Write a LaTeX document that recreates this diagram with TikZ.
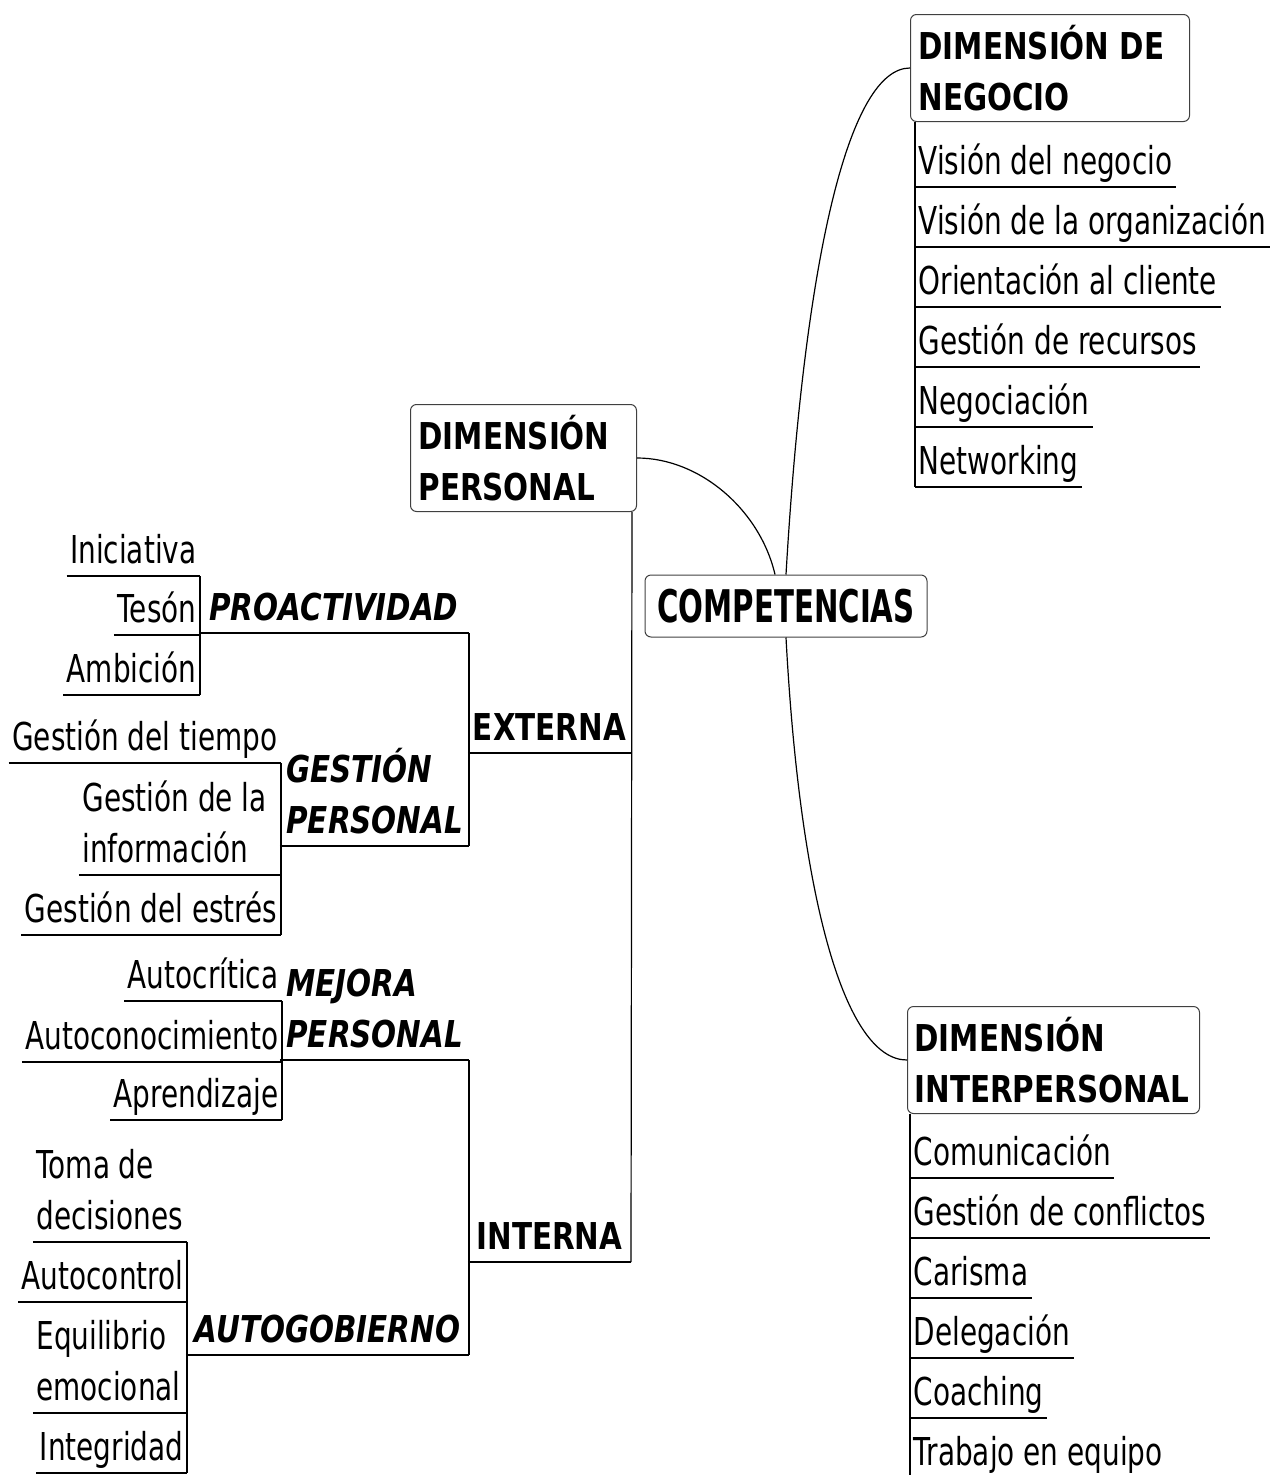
\documentclass[tikz,border=0pt]{standalone}
\usepackage{fontspec}
\newfontfamily\leaffamily{DejaVu Sans}[FakeStretch=0.727]
\newfontfamily\dimfamily{DejaVu Sans}[FakeStretch=0.795]
\newfontfamily\corefamily{DejaVu Sans}[FakeStretch=0.65]
\newcommand\leaffont{\leaffamily\fontsize{38.4}{51}\selectfont}
\newcommand\dimfont{\dimfamily\bfseries\fontsize{37}{51}\selectfont}
\newcommand\groupfont{\dimfamily\bfseries\itshape\fontsize{37}{51}\selectfont}
\newcommand\corefont{\corefamily\bfseries\fontsize{45}{54}\selectfont}
\newcommand\ustrut{\rule[-12pt]{0pt}{12pt}}

\begin{document}
\begin{tikzpicture}[x=1pt, y=-1pt, line width=1.2pt,
  dimbox/.style={draw=black!75, line width=1pt, rounded corners=6pt, font=\dimfont,
    align=flush left, inner xsep=8pt, inner ysep=0pt, minimum height=107pt, anchor=north west},
  leaf/.style={font=\leaffont, inner xsep=3pt, inner ysep=0pt, execute at end node=\ustrut},
  group/.style={font=\groupfont, inner xsep=5pt, inner ysep=0pt, execute at end node=\ustrut,
    anchor=south east},
  side/.style={font=\dimfont, inner xsep=4pt, inner ysep=0pt, execute at end node=\ustrut,
    anchor=south east, minimum width=162pt}]
  \useasboundingbox (0,0) rectangle (1270,1475);

  % Root
  \node[draw=black!75, line width=1pt, rounded corners=6pt, font=\corefont,
    minimum width=282pt, minimum height=62pt] (root) at (786,606) {COMPETENCIAS};

  % Dimensions
  \node[dimbox, text width=263pt] (neg) at (910,14) {DIMENSIÓN DE\\NEGOCIO};
  \node[dimbox, text width=210pt] (pers) at (410,404) {DIMENSIÓN\\PERSONAL};
  \node[dimbox, text width=278pt, inner xsep=7pt] (inter) at (907,1006) {DIMENSIÓN\\INTERPERSONAL};

  \draw (root.north) .. controls (805,250) and (850,68) .. (neg.west);
  \draw ([xshift=-11pt]root.north) .. controls (760,510) and (700,458) .. (pers.east);
  \draw (root.south) .. controls (800,900) and (845,1060) .. (inter.west);

  % Business items
  \foreach \t [count=\i] in {Visión del negocio, Visión de la organización,
      Orientación al cliente, Gestión de recursos, Negociación, Networking}
    \node[leaf, anchor=south west] (neg\i) at (915,127+60*\i) {\t};
  \draw ([xshift=5pt]neg.south west) -- (neg6.south west);

  % Interpersonal items
  \foreach \t [count=\i] in {Comunicación, Gestión de conflictos, Carisma,
      Delegación, Coaching, Trabajo en equipo}
    \node[leaf, anchor=south west] (int\i) at (910,1118+60*\i) {\t};
  \draw ([xshift=3pt]inter.south west) -- (int6.south west);

  % Personal dimension
  \node[side] (ext) at (631,753) {EXTERNA};
  \node[side] (intn) at (631,1262) {INTERNA};
  \draw ([xshift=-5pt]pers.south east) -- (intn.south east);

  \node[group, minimum width=269pt] (proac) at (469,633) {PROACTIVIDAD};
  \node[group, text width=176pt, inner xsep=6pt, align=flush left] (gestp) at (469,846) {GESTIÓN\\PERSONAL};
  \node[group, text width=176pt, inner xsep=6pt, align=flush left] (mejora) at (469,1060) {MEJORA\\PERSONAL};
  \node[group, minimum width=282pt] (autog) at (469,1355) {AUTOGOBIERNO};
  \draw (proac.south east) -- (gestp.south east);
  \draw (mejora.south east) -- (autog.south east);

  \node[leaf, anchor=south east] (ini) at (200,576) {Iniciativa};
  \node[leaf, anchor=south east] (tes) at (200,635) {Tesón};
  \node[leaf, anchor=south east] (amb) at (200,695) {Ambición};
  \draw (ini.south east) -- (amb.south east);

  \node[leaf, anchor=south east] (gtie) at (281,763) {Gestión del tiempo};
  \node[leaf, anchor=south east, text width=195pt, align=flush left] (ginf) at (281,875)
    {Gestión de la\\información};
  \node[leaf, anchor=south east] (gest) at (281,935) {Gestión del estrés};
  \draw (gtie.south east) -- (gest.south east);

  \node[leaf, anchor=south east] (acri) at (282,1001) {Autocrítica};
  \node[leaf, anchor=south east] (acon) at (282,1062) {Autoconocimiento};
  \node[leaf, anchor=south east] (apre) at (282,1120) {Aprendizaje};
  \draw (acri.south east) -- (apre.south east);

  \node[leaf, anchor=south east, text width=147pt, align=flush left] (toma) at (187,1242)
    {Toma de\\decisiones};
  \node[leaf, anchor=south east] (acto) at (187,1302) {Autocontrol};
  \node[leaf, anchor=south east, text width=147pt, align=flush left] (equi) at (187,1413)
    {Equilibrio\\emocional};
  \node[leaf, anchor=south east] (integ) at (187,1473) {Integridad};
  \draw (toma.south east) -- (integ.south east);

  % Underlines
  \foreach \n in {neg1,neg2,neg3,neg4,neg5,neg6,int1,int2,int3,int4,int5,int6,
      ext,intn,proac,gestp,mejora,autog,ini,tes,amb,gtie,ginf,gest,
      acri,acon,apre,toma,acto,equi,integ}
    \draw (\n.south west) -- (\n.south east);
\end{tikzpicture}
\end{document}
